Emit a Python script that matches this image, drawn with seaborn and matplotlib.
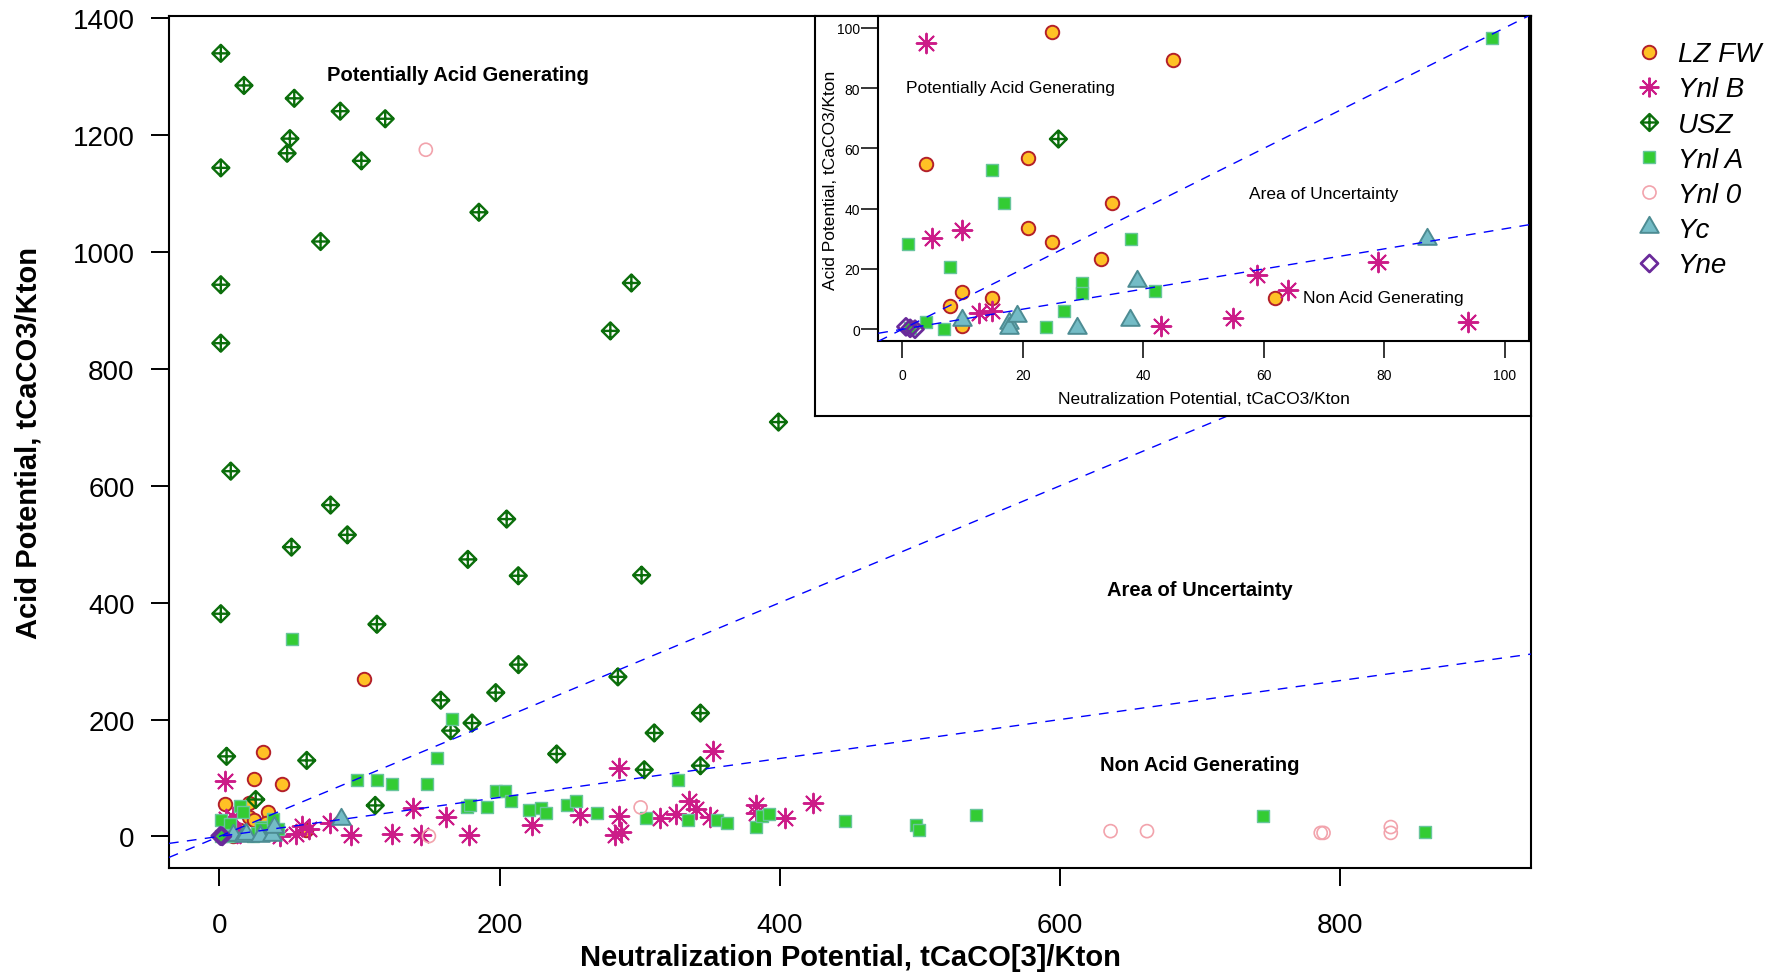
import matplotlib
matplotlib.use("Agg")
import matplotlib.pyplot as plt
from matplotlib.path import Path
from matplotlib.lines import Line2D
import seaborn as sns

# ---------------------------------------------------------------------------
# Acid-base accounting data: neutralization potential (NP) and acid
# potential (AP), both in tCaCO3/Kton, for each sample group.
# ---------------------------------------------------------------------------
groups = ["LZ FW", "Ynl B", "USZ", "Ynl A", "Ynl 0", "Yc", "Yne"]

lzfw_np = [24.9, 3.9, 20.8, 34.8, 20.8, 24.9, 32.9, 9.9, 7.9, 14.9, 9.9, 44.9,
           61.9, 103.3, 31.0]
lzfw_ap = [98.5, 54.9, 56.8, 41.9, 33.7, 28.9, 23.4, 12.4, 7.7, 10.3, 1.2, 89.4,
           10.5, 269.7, 144.0]

ynlb_np = [3.9, 4.9, 9.9, 12.8, 14.9, 42.9, 54.9, 58.9, 64.0, 78.9, 93.9,
           123.0, 138.5, 144.0, 162.0, 178.0, 223.0, 257.3, 282.0, 286.3, 285.4,
           285.4, 314.3, 325.5, 335.3, 339.8, 350.0, 352.1, 383.2, 383.0, 403.4,
           423.4]
ynlb_ap = [95.0, 30.3, 33.0, 5.5, 6.1, 1.1, 3.6, 18.0, 13.0, 22.4, 2.5,
           4.6, 48.6, 1.7, 33.2, 1.7, 18.8, 35.9, 1.7, 7.5, 34.2,
           117.5, 32.0, 38.8, 60.5, 47.4, 33.2, 145.3, 54.2, 40.0, 32.0,
           57.1]

usz_np = [1.0, 17.5, 53.4, 86.2, 118.3, 50.3, 48.3, 1.0, 101.3, 185.2, 72.2,
          1.0, 294.0, 279.0, 1.0, 8.1, 79.3, 51.4, 91.3, 205.0, 177.3, 213.3,
          301.3, 1.0, 399.0, 112.4, 213.4, 197.2, 158.0, 180.3, 165.0, 240.7,
          5.1, 62.3, 111.2, 25.9, 284.4, 343.3, 310.3, 303.2, 343.3]
usz_ap = [1340, 1285, 1263, 1241, 1228, 1194, 1169, 1144, 1156, 1068, 1018,
          944, 947, 865, 844, 625, 567, 495, 516, 543, 474, 446,
          447, 381, 709, 363, 294, 246, 233, 194, 181, 141,
          137, 130, 53, 63.1, 273, 211, 177, 114, 121]

ynla_np = [0.9, 14.9, 16.9, 7.9, 3.9, 6.9, 23.9, 26.9, 29.9, 29.9, 37.9, 41.9,
           97.9, 1.2, 51.6, 166.3, 155.4, 112.4, 123.5, 148.4, 197.2, 203.9,
           207.8, 177.0, 178.9, 191.2, 220.9, 229.2, 233.3, 327.2, 248.3, 254.2,
           269.2, 304.6, 334.6, 355.2, 362.4, 383.2, 387.5, 392.5, 446.2, 497.3,
           499.0, 540.0, 744.6, 860.2]
ynla_ap = [28.3, 52.7, 41.8, 20.8, 2.3, 0.1, 0.8, 6.1, 15.4, 12.0, 30.0, 12.6,
           96.6, 0.4, 338.6, 200.8, 134.6, 97.0, 90.1, 90.1, 77.0, 77.0,
           59.8, 50.3, 53.0, 50.3, 44.5, 48.6, 40.0, 95.8, 53.0, 59.8,
           40.0, 32.0, 27.4, 27.4, 23.4, 16.1, 34.9, 37.6, 26.3, 20.0,
           10.3, 35.9, 35.0, 7.7]

ynl0_np = [147.3, 149.5, 300.6, 636.0, 662.0, 786.0, 788.0, 836.0, 836.0]
ynl0_ap = [1175.0, 0.5, 49.6, 9.0, 9.0, 6.0, 6.0, 16.0, 6.0]

yc_np = [9.9, 17.7, 17.7, 19.1, 29.0, 37.8, 38.9, 87.0]
yc_ap = [3.2, 2.1, 0.4, 4.3, 0.4, 3.2, 15.9, 30.0]

yne_np = [0.6, 1.3, 2.1]
yne_ap = [0.8, 0.3, 0.0]

# Classification boundaries: NP/AP ratios drawn as lines through the origin
np_ap_ratios = [1, 3]

# Region labels (main plot and inset)
region_labels = ["Potentially Acid Generating", "Area of Uncertainty",
                 "Non Acid Generating"]
main_label_np = [170, 700, 700]
main_label_ap = [1304, 422, 123]
inset_label_np = [17.9, 69.9, 79.9]
inset_label_ap = [80.2, 45.0, 10.4]

main_xticks = [0, 200, 400, 600, 800]
main_yticks = [0, 200, 400, 600, 800, 1000, 1200, 1400]
inset_ticks = [0, 20, 40, 60, 80, 100]

# ---------------------------------------------------------------------------
# Marker shapes
# ---------------------------------------------------------------------------
diamond_plus = Path(
    [(0, 1), (1, 0), (0, -1), (-1, 0), (0, 1),
     (0, 1), (0, -1), (-1, 0), (1, 0)],
    [Path.MOVETO, Path.LINETO, Path.LINETO, Path.LINETO, Path.CLOSEPOLY,
     Path.MOVETO, Path.LINETO, Path.MOVETO, Path.LINETO])
# equilateral triangle centred on its centroid
triangle = Path([(0, 1.555), (1.347, -0.778), (-1.347, -0.778), (0, 1.555)],
                [Path.MOVETO, Path.LINETO, Path.LINETO, Path.CLOSEPOLY])
diamond = Path([(0, 1), (1, 0), (0, -1), (-1, 0), (0, 1)],
               [Path.MOVETO, Path.LINETO, Path.LINETO, Path.LINETO,
                Path.CLOSEPOLY])
asterisk = (8, 2, 0)

styles = {
    "LZ FW": dict(x=lzfw_np, y=lzfw_ap, marker="o", s=94, face="#FFC125",
                  edge="#B3202A", lw=1.4),
    "Ynl B": dict(x=ynlb_np, y=ynlb_ap, marker=asterisk, s=200, face="#CC1C88",
                  edge=None, lw=1.4),
    "USZ": dict(x=usz_np, y=usz_ap, marker=diamond_plus, s=150, face="none",
                edge="#0B6E0B", lw=1.7),
    "Ynl A": dict(x=ynla_np, y=ynla_ap, marker="s", s=83, face="#33CC33",
                  edge="#68C59C", lw=1.0),
    "Ynl 0": dict(x=ynl0_np, y=ynl0_ap, marker="o", s=88, face="none",
                  edge="#F2A3AC", lw=1.2),
    "Yc": dict(x=yc_np, y=yc_ap, marker=triangle, s=236, face="#74BCC6",
               edge="#4D8C93", lw=1.4),
    "Yne": dict(x=yne_np, y=yne_ap, marker=diamond, s=150, face="none",
                edge="#6A2A9A", lw=2.0),
}

sns.set_style("white")
plt.rcParams["font.family"] = ["Liberation Sans", "DejaVu Sans"]
plt.rcParams["text.color"] = "black"
plt.rcParams["axes.labelcolor"] = "black"


def draw_points(axis):
    for z, name in enumerate(groups):
        st = styles[name]
        kws = dict(x=st["x"], y=st["y"], ax=axis, marker=st["marker"], s=st["s"],
                   color=st["face"], linewidth=st["lw"], legend=False,
                   zorder=2 + z * 0.01)
        if st["edge"] is not None:
            kws["edgecolor"] = st["edge"]
        sns.scatterplot(**kws)
    for ratio in np_ap_ratios:
        axis.axline((0, 0), slope=1 / ratio, color="#0000FF", lw=1.0,
                    dashes=(7, 6), zorder=3)


def style_box(axis, lw=1.5):
    for sp in axis.spines.values():
        sp.set_linewidth(lw)
        sp.set_color("black")


fig = plt.figure(figsize=(17.92, 9.78), dpi=100)

# ---------------------------- main plot ------------------------------------
ax = fig.add_axes([0.0943, 0.1115, 0.7600, 0.8712])
draw_points(ax)
ax.set_xlim(-36, 936)
ax.set_ylim(-54, 1404)
ax.set_xticks(main_xticks)
ax.set_yticks(main_yticks)
ax.tick_params(axis="both", direction="out", length=12.7, width=1.4,
               labelsize=20, color="black", labelcolor="black",
               bottom=True, left=True, top=False, right=False)
ax.tick_params(axis="x", pad=19)
ax.tick_params(axis="y", pad=12)
style_box(ax)
ax.set_xlabel("Neutralization Potential, tCaCO[3]/Kton", fontsize=21,
              fontweight="bold", color="black")
ax.set_ylabel("Acid Potential, tCaCO3/Kton", fontsize=21, fontweight="bold",
              color="black")
ax.xaxis.set_label_coords(0.5, -0.1046)
ax.xaxis.label.set_va("center")
ax.yaxis.set_label_coords(-0.1031, 0.5)
ax.yaxis.label.set_va("center")
for txt, tx, ty in zip(region_labels, main_label_np, main_label_ap):
    ax.text(tx, ty, txt, ha="center", va="center", fontsize=14.5,
            fontweight="bold", color="black", zorder=4)

# ------------------------------ inset --------------------------------------
frame = fig.add_axes([0.4548, 0.5739, 0.3996, 0.4087])
frame.set_zorder(5)
frame.set_facecolor("white")
frame.set_xticks([])
frame.set_yticks([])
style_box(frame)

ins = fig.add_axes([0.4901, 0.6500, 0.3631, 0.3329])
ins.set_zorder(6)
ins.set_facecolor("white")
draw_points(ins)
ins.set_xlim(-4, 104)
ins.set_ylim(-4, 104)
ins.set_xticks(inset_ticks)
ins.set_yticks(inset_ticks)
ins.tick_params(axis="both", direction="out", length=12.5, width=1.1,
                labelsize=10, color="black", labelcolor="black",
                bottom=True, left=True, top=False, right=False)
ins.tick_params(axis="x", pad=7)
ins.tick_params(axis="y", pad=0.8)
style_box(ins)
ins.set_xlabel("Neutralization Potential, tCaCO3/Kton", fontsize=12.5,
               color="black")
ins.set_ylabel("Acid Potential, tCaCO3/Kton", fontsize=12.5, color="black")
ins.xaxis.set_label_coords(0.5, -0.177)
ins.xaxis.label.set_va("center")
ins.yaxis.set_label_coords(-0.0727, 0.498)
ins.yaxis.label.set_va("center")
for txt, tx, ty in zip(region_labels, inset_label_np, inset_label_ap):
    ins.text(tx, ty, txt, ha="center", va="center", fontsize=12.5,
             color="black", zorder=4)

# ------------------------------ legend -------------------------------------
handles = []
for name in groups:
    st = styles[name]
    face = st["face"]
    edge = st["edge"] if st["edge"] is not None else face
    handles.append(Line2D([], [], linestyle="none", marker=st["marker"],
                          markersize=st["s"] ** 0.5, markerfacecolor=face,
                          markeredgecolor=edge, markeredgewidth=st["lw"],
                          label=name))
leg = fig.legend(handles=handles, loc="upper left",
                 bbox_to_anchor=(0.9124, 0.9568), frameon=False,
                 prop={"size": 20, "style": "italic"},
                 handlelength=1.0, handletextpad=0.53, labelspacing=0.33,
                 borderpad=0, borderaxespad=0)
for t in leg.get_texts():
    t.set_color("black")

fig.savefig("out.png", dpi=100, facecolor="white")
